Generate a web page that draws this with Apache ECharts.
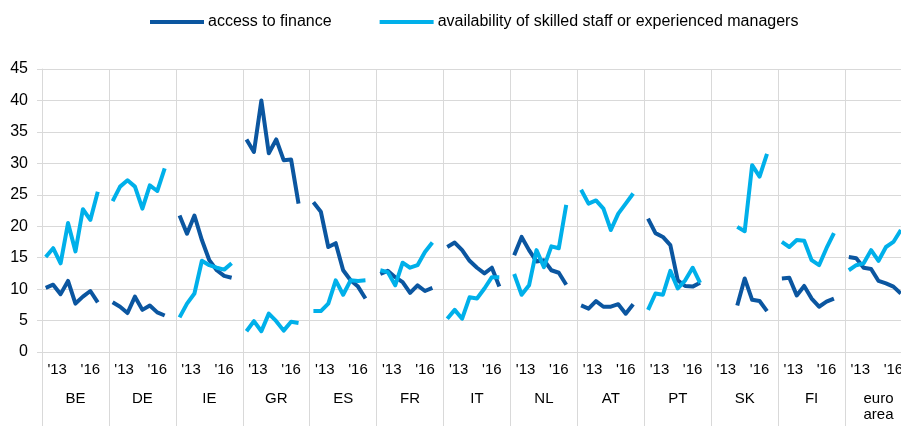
<!DOCTYPE html>
<html>
<head>
<meta charset="utf-8">
<script src="https://cdn.jsdelivr.net/npm/echarts@6/dist/echarts.min.js"></script>
<style>
  html, body { margin: 0; padding: 0; background: #fff; overflow: hidden; }
  #chart { width: 901px; height: 426px; }
</style>
</head>
<body>
<div id="chart"></div>
<script>
// countries (groups), 9 slots each: 8 survey rounds + 1 empty gap
var countries = ['BE', 'DE', 'IE', 'GR', 'ES', 'FR', 'IT', 'NL', 'AT', 'PT', 'SK', 'FI', 'euro\narea']
var yearLabels = ['', "'13", '', '', '', '', "'16", '', '']

// access to finance, one row per country (null = no data)
var financeBE = [10.2, 10.7, 9.2, 11.3, 7.7, 8.8, 9.7, 7.9]
var financeDE = [7.9, 7.2, 6.2, 8.8, 6.7, 7.4, 6.3, 5.8]
var financeIE = [21.7, 18.8, 21.7, 17.8, 14.6, 13.0, 12.1, 11.8]
var financeGR = [33.8, 31.8, 40.0, 31.6, 33.8, 30.5, 30.6, 23.6]
var financeES = [23.8, 22.3, 16.7, 17.3, 13.0, 11.4, 10.4, 8.5]
var financeFR = [12.4, 12.9, 11.9, 11.1, 9.4, 10.6, 9.7, 10.2]
var financeIT = [16.7, 17.4, 16.2, 14.5, 13.4, 12.5, 13.4, 10.4]
var financeNL = [15.4, 18.3, 16.2, 14.4, 14.6, 13.0, 12.6, 10.7]
var financeAT = [7.4, 6.9, 8.1, 7.2, 7.2, 7.6, 6.1, 7.6]
var financePT = [21.2, 18.9, 18.3, 17.0, 11.4, 10.5, 10.4, 11.0]
var financeSK = [null, null, null, 7.4, 11.7, 8.3, 8.1, 6.5]
var financeFI = [11.7, 11.8, 9.0, 10.5, 8.5, 7.2, 8.0, 8.5]
var financeEA = [15.1, 14.9, 13.4, 13.2, 11.3, 10.9, 10.4, 9.3]

// availability of skilled staff or experienced managers
var staffBE = [15.1, 16.5, 14.1, 20.5, 16.0, 22.7, 21.0, 25.5]
var staffDE = [24.0, 26.3, 27.3, 26.3, 22.8, 26.5, 25.6, 29.2]
var staffIE = [5.5, 7.7, 9.3, 14.5, 13.8, 13.4, 13.1, 14.1]
var staffGR = [3.3, 4.9, 3.3, 6.1, 4.9, 3.4, 4.8, 4.6]
var staffES = [6.5, 6.5, 7.7, 11.4, 9.1, 11.4, 11.3, 11.4]
var staffFR = [13.0, 12.7, 10.6, 14.2, 13.4, 13.8, 15.9, 17.4]
var staffIT = [5.3, 6.7, 5.3, 8.7, 8.5, 10.1, 11.9, 11.9]
var staffNL = [12.4, 9.1, 10.6, 16.2, 13.5, 16.8, 16.5, 23.4]
var staffAT = [25.8, 23.6, 24.1, 22.8, 19.4, 22.0, 23.6, 25.2]
var staffPT = [6.7, 9.3, 9.1, 12.9, 10.1, 11.4, 13.4, 11.0]
var staffSK = [null, null, null, 19.9, 19.2, 29.7, 27.9, 31.5]
var staffFI = [17.5, 16.7, 17.8, 17.7, 14.6, 13.8, 16.5, 18.9]
var staffEA = [13.0, 13.8, 14.1, 16.2, 14.5, 16.7, 17.5, 19.4]

var financeRows = [financeBE, financeDE, financeIE, financeGR, financeES, financeFR, financeIT,
  financeNL, financeAT, financePT, financeSK, financeFI, financeEA]
var staffRows = [staffBE, staffDE, staffIE, staffGR, staffES, staffFR, staffIT,
  staffNL, staffAT, staffPT, staffSK, staffFI, staffEA]

// flatten rows into one category axis, null in the gap slot breaks the line
function flatten(rows) {
  var out = []
  rows.forEach(function(row) {
    for (var i = 0; i < yearLabels.length; i++) {
      out.push(i < row.length ? row[i] : null)
    }
  })
  return out
}

var slots = []
for (var i = 0; i < countries.length * yearLabels.length; i++) slots.push(String(i))

var grey = '#d9d9d9'
var font = 'Liberation Sans, Arial, sans-serif'

var chart = echarts.init(document.getElementById('chart'), null, { renderer: 'canvas' })

var option = {
  animation: false,
  textStyle: { fontFamily: font, color: '#000' },
  legend: {
    left: 150,
    top: 14,
    padding: 0,
    icon: 'rect',
    itemWidth: 54,
    itemHeight: 4,
    itemGap: 48,
    textStyle: { fontFamily: font, fontSize: 16, color: '#000', padding: [0, 0, 0, -1] },
    data: ['access to finance', 'availability of skilled staff or experienced managers']
  },
  grid: {
    left: 42,
    right: -11,
    top: 69,
    bottom: 74,
    outerBoundsMode: 'none'
  },
  xAxis: [{
    type: 'category',
    data: slots,
    position: 'bottom',
    axisLine: { show: true, lineStyle: { color: grey } },
    axisTick: { show: false },
    splitLine: { show: false },
    axisLabel: {
      interval: 0,
      margin: 10,
      fontSize: 15,
      color: '#000',
      formatter: function(v) {
        var s = yearLabels[Number(v) % yearLabels.length]
        return s === "'13" ? '{a|' + s + '}' : s
      },
      rich: { a: { fontSize: 15, color: '#000', padding: [0, 0, 0, 8] } }
    }
  }, {
    type: 'category',
    data: countries,
    position: 'bottom',
    axisLine: { show: false },
    axisTick: { show: true, interval: 0, length: 74, lineStyle: { color: grey } },
    splitLine: { show: true, interval: 0, lineStyle: { color: grey } },
    axisLabel: { interval: 0, margin: 39, fontSize: 15, color: '#000', lineHeight: 16 }
  }],
  yAxis: {
    type: 'value',
    min: 0,
    max: 45,
    interval: 5,
    axisLine: { show: true, lineStyle: { color: grey } },
    axisTick: { show: true, length: 5, lineStyle: { color: grey } },
    splitLine: { show: true, lineStyle: { color: grey } },
    axisLabel: { margin: 14, fontSize: 16, color: '#000' }
  },
  series: [{
    name: 'access to finance',
    type: 'line',
    xAxisIndex: 0,
    data: flatten(financeRows),
    showSymbol: false,
    connectNulls: false,
    color: '#0b56a0',
    lineStyle: { width: 4, join: 'round' }
  }, {
    name: 'availability of skilled staff or experienced managers',
    type: 'line',
    xAxisIndex: 0,
    data: flatten(staffRows),
    showSymbol: false,
    connectNulls: false,
    color: '#00b0ea',
    lineStyle: { width: 4, join: 'round' }
  }]
}

chart.setOption(option)
</script>
</body>
</html>
